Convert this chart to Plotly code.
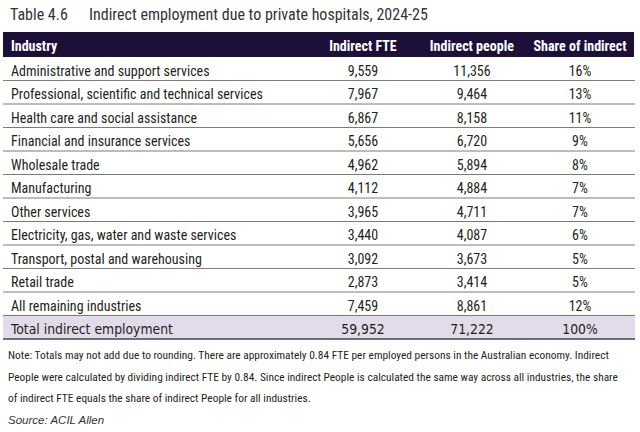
import plotly.graph_objects as go

W, H = 640, 432

title_num = "Table 4.6"
title_text = "Indirect employment due to private hospitals, 2024-25"
headers = ["Industry", "Indirect FTE", "Indirect people", "Share of indirect"]
industries = [
    "Administrative and support services",
    "Professional, scientific and technical services",
    "Health care and social assistance",
    "Financial and insurance services",
    "Wholesale trade",
    "Manufacturing",
    "Other services",
    "Electricity, gas, water and waste services",
    "Transport, postal and warehousing",
    "Retail trade",
    "All remaining industries",
]
fte = [9559, 7967, 6867, 5656, 4962, 4112, 3965, 3440, 3092, 2873, 7459]
people = [11356, 9464, 8158, 6720, 5894, 4884, 4711, 4087, 3673, 3414, 8861]
share = [16, 13, 11, 9, 8, 7, 7, 6, 5, 5, 12]
total_label = "Total indirect employment"
total_fte = 59952
total_people = 71222
total_share = 100
note_lines = [
    "Note: Totals may not add due to rounding. There are approximately 0.84 FTE per employed persons in the Australian economy. Indirect",
    "People were calculated by dividing indirect FTE by 0.84. Since indirect People is calculated the same way across all industries, the share",
    "of indirect FTE equals the share of indirect People for all industries.",
]
source_text = "Source: ACIL Allen"

# styles
NAVY = "#1c1038"
LAV = "#e2dcea"
TXT = "#231f20"
CLEAR = "rgba(0,0,0,0)"
BODY_FONT = "Roboto Condensed"
TOTAL_FONT = "DejaVu Sans Condensed"
NB = "\u00a0"

table_left, table_right = 3, 635
table_top = 32
header_h = 25
row_h = 23.5
colw = [304, 112, 106, 110]
aligns = ["left", "center", "center", "center"]

col1 = industries
col2 = [f"{v:,}" for v in fte]
col3 = [f"{v:,}" for v in people]
col4 = [f"{v}%" for v in share]
n = len(col1)

body_top = table_top + header_h
body_bottom = body_top + n * row_h
total_bottom = body_bottom + row_h
xdom = [table_left / W, table_right / W]

head_tbl = go.Table(
    domain=dict(x=xdom, y=[1 - body_top / H, 1 - (table_top - 2) / H]),
    columnwidth=colw,
    header=dict(
        values=[f"<b>{h.replace(' ', NB)}</b>" for h in headers],
        fill_color=CLEAR,
        line=dict(width=0, color=CLEAR),
        align=aligns,
        font=dict(family=BODY_FONT, size=14, color="white"),
        height=header_h,
    ),
    cells=dict(values=[[], [], [], []], height=1, line=dict(width=0), fill_color=CLEAR),
)

body_tbl = go.Table(
    domain=dict(x=xdom, y=[1 - body_bottom / H, 1 - (body_top - 1) / H]),
    columnwidth=colw,
    header=dict(
        values=["", "", "", ""],
        fill_color=CLEAR,
        line=dict(width=0, color=CLEAR),
        height=1,
    ),
    cells=dict(
        values=[col1, col2, col3, col4],
        fill_color=CLEAR,
        line=dict(width=0, color=CLEAR),
        align=aligns,
        font=dict(family=BODY_FONT, size=14, color=TXT),
        height=row_h,
    ),
)

total_vals = [total_label, f"{total_fte:,}", f"{total_people:,}", f"{total_share}%"]
total_tbl = go.Table(
    domain=dict(x=xdom, y=[1 - total_bottom / H, 1 - body_bottom / H]),
    columnwidth=colw,
    header=dict(
        values=[v.replace(" ", NB) for v in total_vals],
        fill_color=LAV,
        line=dict(width=0, color=LAV),
        align=aligns,
        font=dict(family=TOTAL_FONT, size=13.8, color=TXT),
        height=row_h,
    ),
    cells=dict(values=[[], [], [], []], height=1, line=dict(width=0), fill_color=CLEAR),
)

fig = go.Figure([body_tbl, total_tbl, head_tbl])

shapes = [dict(
    type="rect", xref="paper", yref="paper", layer="below",
    x0=table_left / W, x1=(table_right - 1) / W,
    y0=1 - body_top / H, y1=1 - table_top / H,
    fillcolor=NAVY, line=dict(width=0),
)]
for i in range(n + 1):
    y_px = body_top + (i + 1) * row_h
    last = i == n
    shapes.append(dict(
        type="line", xref="paper", yref="paper",
        x0=table_left / W, x1=table_right / W,
        y0=1 - y_px / H, y1=1 - y_px / H,
        line=dict(color="#444444" if last else "#7a7a7a", width=1.5 if last else 1),
    ))

annotations = [
    dict(text=title_num, x=8 / W, y=1 - 14 / H, xref="paper", yref="paper",
         xanchor="left", yanchor="middle", showarrow=False,
         font=dict(family=BODY_FONT, size=16, color="#333333")),
    dict(text=title_text, x=87 / W, y=1 - 14 / H, xref="paper", yref="paper",
         xanchor="left", yanchor="middle", showarrow=False,
         font=dict(family=BODY_FONT, size=16, color="#333333")),
]
for k, line in enumerate(note_lines):
    annotations.append(dict(
        text=line, x=6 / W, y=1 - (355 + k * 21.5) / H, xref="paper", yref="paper",
        xanchor="left", yanchor="middle", showarrow=False,
        font=dict(family=BODY_FONT, size=11.4, color=TXT)))
annotations.append(dict(
    text=f"<i>{source_text}</i>", x=6 / W, y=1 - 420 / H, xref="paper", yref="paper",
    xanchor="left", yanchor="middle", showarrow=False,
    font=dict(family="Liberation Sans", size=11.5, color="#333333")))

fig.update_layout(
    width=W, height=H, margin=dict(l=0, r=0, t=0, b=0),
    paper_bgcolor="white", plot_bgcolor="white",
    shapes=shapes, annotations=annotations,
)
fig.write_html("out.html", config={"displayModeBar": False},
               post_script="document.body.style.margin='0';document.body.style.overflow='hidden';")
